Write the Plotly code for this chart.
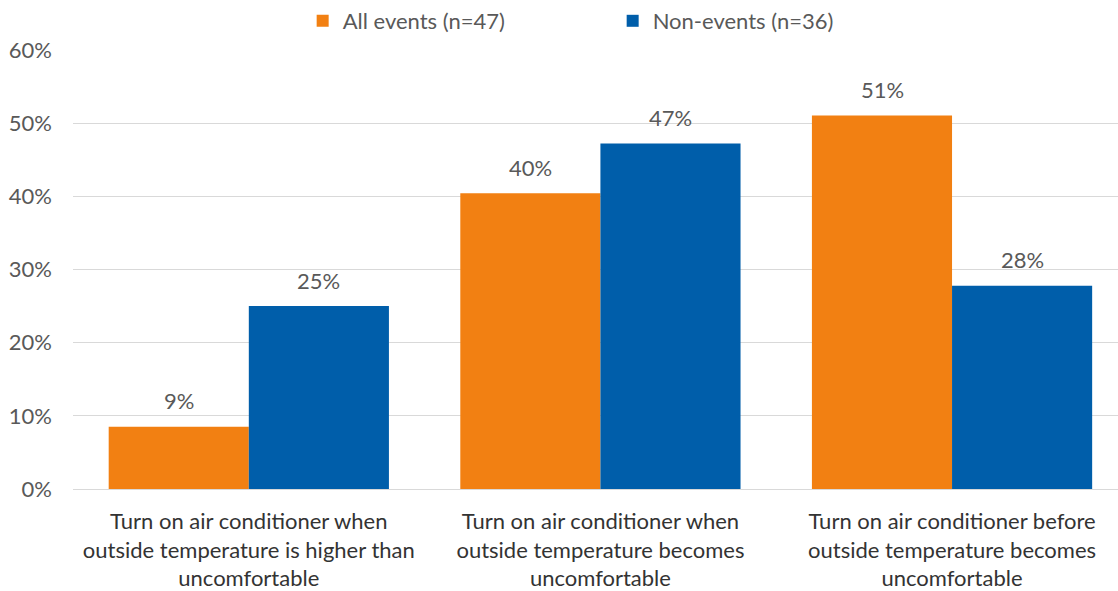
import plotly.graph_objects as go

categories = [
    "Turn on air conditioner when<br>outside temperature is higher than<br>uncomfortable",
    "Turn on air conditioner when<br>outside temperature becomes<br>uncomfortable",
    "Turn on air conditioner before<br>outside temperature becomes<br>uncomfortable",
]
all_events = [8.51, 40.43, 51.06]
non_events = [25.0, 47.22, 27.78]
series_names = ["All events (n=47)", "Non-events (n=36)"]
tick_vals = [0, 10, 20, 30, 40, 50, 60]
tick_text = ["0%", "10%", "20%", "30%", "40%", "50%", "60%"]

FONT = "Lato"
GRAY = "#595959"
SIZE = 22
colors = ["#F28012", "#005EAA"]

fig = go.Figure()
for name, vals, col in zip(series_names, [all_events, non_events], colors):
    fig.add_trace(go.Bar(
        x=categories, y=vals, name=name,
        marker=dict(color=col, line=dict(width=0)),
        hoverinfo="skip",
    ))

# data labels
for vals, xs in [(all_events, -70), (non_events, 70)]:
    for c, v in zip(categories, vals):
        fig.add_annotation(
            x=c, y=v, text=f"{v:.0f}%", showarrow=False,
            xshift=xs, yshift=26, yanchor="middle",
            font=dict(family=FONT, size=SIZE, color=GRAY),
        )

fig.update_layout(
    width=1118, height=591,
    margin=dict(l=73, r=0, t=50, b=102, autoexpand=False),
    paper_bgcolor="white", plot_bgcolor="white",
    barmode="group", bargap=0.203, bargroupgap=0,
    font=dict(family=FONT, size=SIZE, color=GRAY),
    legend=dict(
        orientation="h", x=0.548, xanchor="center", y=1.0, yanchor="top",
        yref="container", xref="container",
        font=dict(family=FONT, size=SIZE, color=GRAY),
        entrywidth=265, itemwidth=30,
    ),
    xaxis=dict(
        range=[-0.5, 2.472],
        showgrid=False, showline=False, ticks="",
        tickfont=dict(family=FONT, size=SIZE, color="#333333"),
        ticklabelstandoff=17,
        automargin=False,
    ),
    yaxis=dict(
        range=[0, 60], tickmode="array", tickvals=tick_vals, ticktext=tick_text,
        showgrid=True, gridcolor="#D9D9D9", gridwidth=1,
        zeroline=True, zerolinecolor="#D9D9D9", zerolinewidth=1,
        showline=False, ticks="", ticklen=0,
        ticklabelstandoff=20,
        tickfont=dict(family=FONT, size=SIZE, color=GRAY),
        automargin=False,
    ),
)

fig.write_html("out.html", post_script="document.body.style.margin='0';",
               config={"displayModeBar": False})
